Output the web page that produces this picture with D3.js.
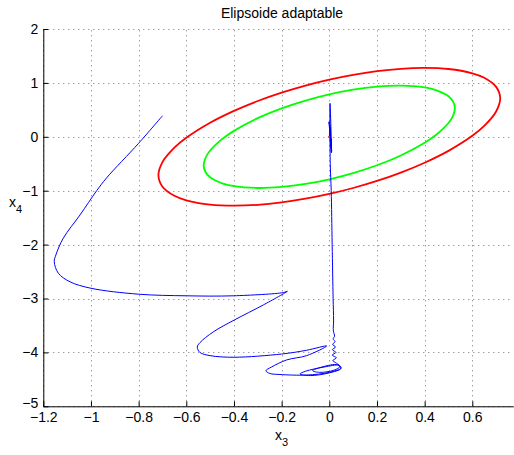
<!DOCTYPE html>
<html>
<head>
<meta charset="utf-8">
<script src="https://cdn.jsdelivr.net/npm/d3@7"></script>
<style>
  body { margin: 0; background: #fff; }
  svg { font-family: "Liberation Sans", Arial, sans-serif; }
</style>
</head>
<body>
<div id="chart"></div>
<script>
// tick values
var xTicks = [-1.2, -1, -0.8, -0.6, -0.4, -0.2, 0, 0.2, 0.4, 0.6];
var yTicks = [-5, -4, -3, -2, -1, 0, 1, 2];

// outer ellipse (red), [x3, x4]
var redEllipse = [
  [0.717, 0.714], [0.7, 0.926], [0.65, 1.095], [0.6, 1.178], [0.5, 1.258],
  [0.4, 1.278], [0.3, 1.262], [0.2, 1.217], [0.1, 1.149], [0, 1.06],
  [-0.1, 0.95], [-0.2, 0.819], [-0.3, 0.664], [-0.4, 0.481], [-0.5, 0.261],
  [-0.6, -0.018], [-0.65, -0.201], [-0.7, -0.469], [-0.717, -0.714], [-0.7, -0.926],
  [-0.65, -1.095], [-0.6, -1.178], [-0.5, -1.258], [-0.4, -1.278], [-0.3, -1.262],
  [-0.2, -1.217], [-0.1, -1.149], [0, -1.06], [0.1, -0.95], [0.2, -0.819],
  [0.3, -0.664], [0.4, -0.481], [0.5, -0.261], [0.6, 0.018], [0.65, 0.201],
  [0.7, 0.469]
];

// inner ellipse (green)
var greenEllipse = [
  [0.527, 0.53], [0.52, 0.649], [0.5, 0.752], [0.45, 0.863], [0.4, 0.916],
  [0.3, 0.95], [0.2, 0.93], [0.1, 0.875], [0, 0.788], [-0.1, 0.673],
  [-0.2, 0.528], [-0.3, 0.346], [-0.4, 0.11], [-0.45, -0.043], [-0.5, -0.255],
  [-0.52, -0.398], [-0.527, -0.53], [-0.52, -0.649], [-0.5, -0.752], [-0.45, -0.863],
  [-0.4, -0.916], [-0.3, -0.95], [-0.2, -0.93], [-0.1, -0.875], [0, -0.788],
  [0.1, -0.673], [0.2, -0.528], [0.3, -0.346], [0.4, -0.11], [0.45, 0.043],
  [0.5, 0.255], [0.52, 0.398]
];

// trajectory (blue)
var trajectory = [
  [-0.70, 0.39], [-0.80, -0.12], [-0.934, -0.76], [-0.976, -1.0], [-1.046, -1.45],
  [-1.116, -1.88], [-1.147, -2.19], [-1.154, -2.32], [-1.137, -2.53], [-1.088, -2.69],
  [-1.0, -2.81], [-0.8, -2.92], [-0.6, -2.95], [-0.403, -2.95], [-0.193, -2.89],
  [-0.176, -2.865], [-0.277, -3.12], [-0.399, -3.40], [-0.487, -3.62], [-0.543, -3.82],
  [-0.554, -3.90], [-0.543, -4.0], [-0.5, -4.06], [-0.4, -4.09], [-0.2, -4.03],
  [-0.095, -3.96], [-0.011, -3.88], [-0.095, -4.06], [-0.179, -4.14], [-0.242, -4.27],
  [-0.266, -4.34], [-0.25, -4.39], [-0.207, -4.41], [-0.095, -4.42], [0.0, -4.37],
  [0.05, -4.29], [0.04, -4.24], [-0.02, -4.27], [-0.10, -4.35], [-0.123, -4.40],
  [-0.08, -4.43], [0.0, -4.38], [0.048, -4.30], [0.035, -4.23], [-0.03, -4.27],
  [-0.07, -4.34], [-0.04, -4.37], [0.02, -4.33], [0.045, -4.26], [0.03, -4.2],
  [0.015, -4.15], [0.03, -4.1], [0.012, -4.05], [0.028, -4.0], [0.013, -3.95],
  [0.026, -3.9], [0.014, -3.85], [0.024, -3.8], [0.016, -3.75], [0.022, -3.7],
  [0.017, -3.6], [0.018, -3.4], [0.016, -3.0], [0.012, -2.0], [0.008, -1.0],
  [0.004, -0.5], [0.003, 0.62], [0.009, -0.3], [-0.001, 0.28], [0.01, -0.27],
  [0.0, 0.27], [0.009, -0.24], [0.001, 0.24], [0.008, -0.2], [0.002, 0.18],
  [0.006, -0.12], [0.003, 0.08], [0.0, 0.0]
];

var w = 514, h = 455;
var x = d3.scaleLinear().domain([-1.2, 0.772]).range([43.3, 513.3]);
var y = d3.scaleLinear().domain([-5, 2]).range([406.3, 29]);

var svg = d3.select('#chart').append('svg')
  .attr('width', w)
  .attr('height', h);

// dotted grid
var grid = svg.append('g').attr('stroke', '#000').attr('stroke-opacity', 0.55)
  .attr('stroke-dasharray', '1,4').attr('stroke-width', 1);
grid.selectAll('.gx').data(xTicks).enter().append('line')
  .attr('x1', function(d) { return Math.round(x(d)) + 0.5; })
  .attr('x2', function(d) { return Math.round(x(d)) + 0.5; })
  .attr('y1', y(-5)).attr('y2', y(2));
grid.selectAll('.gy').data(yTicks).enter().append('line')
  .attr('y1', function(d) { return Math.round(y(d)) + 0.5; })
  .attr('y2', function(d) { return Math.round(y(d)) + 0.5; })
  .attr('x1', x(-1.2)).attr('x2', x(0.772));

// axes
var fmt = d3.format('~g');
svg.append('g')
  .attr('transform', 'translate(0,' + y(-5) + ')')
  .call(d3.axisBottom(x).tickValues(xTicks).tickFormat(fmt)
    .tickSizeInner(-5).tickSizeOuter(0).tickPadding(6));
var yAxis = svg.append('g')
  .attr('transform', 'translate(' + x(-1.2) + ',0)')
  .call(d3.axisLeft(y).tickValues(yTicks).tickFormat(fmt)
    .tickSizeInner(-5).tickSizeOuter(0).tickPadding(5));
svg.selectAll('.tick text').attr('font-size', 14).attr('fill', '#000')
  .attr('font-family', '"Liberation Sans", Arial, sans-serif');
svg.selectAll('.domain, .tick line').attr('stroke', '#000');
// lowest y label sits a little higher so it clears the x labels
yAxis.selectAll('.tick text').filter(function(d) { return d === -5; })
  .attr('dy', '0.12em');

// curves
var line = d3.line()
  .x(function(d) { return x(d[0]); })
  .y(function(d) { return y(d[1]); });

svg.append('path').datum(redEllipse)
  .attr('d', line.curve(d3.curveCatmullRomClosed.alpha(0.5)))
  .attr('fill', 'none').attr('stroke', '#ff0000').attr('stroke-width', 1.8);
svg.append('path').datum(greenEllipse)
  .attr('d', line.curve(d3.curveCatmullRomClosed.alpha(0.5)))
  .attr('fill', 'none').attr('stroke', '#00ff00').attr('stroke-width', 1.8);
svg.append('path').datum(trajectory)
  .attr('d', line.curve(d3.curveCatmullRom.alpha(0.5)))
  .attr('fill', 'none').attr('stroke', '#0000ff').attr('stroke-width', 1);
svg.append('circle').attr('cx', x(0)).attr('cy', y(0)).attr('r', 1)
  .attr('fill', '#ff0000');

// texts
svg.append('text').attr('x', 282).attr('y', 18).attr('text-anchor', 'middle')
  .attr('font-size', 14).text('Elipsoide adaptable');

var xl = svg.append('text').attr('x', 275).attr('y', 440).attr('font-size', 14);
xl.append('tspan').text('x');
xl.append('tspan').attr('dy', 6).attr('font-size', 11).text('3');

var yl = svg.append('text').attr('x', 9).attr('y', 207).attr('font-size', 14);
yl.append('tspan').text('x');
yl.append('tspan').attr('dy', 6).attr('font-size', 11).text('4');
</script>
</body>
</html>
